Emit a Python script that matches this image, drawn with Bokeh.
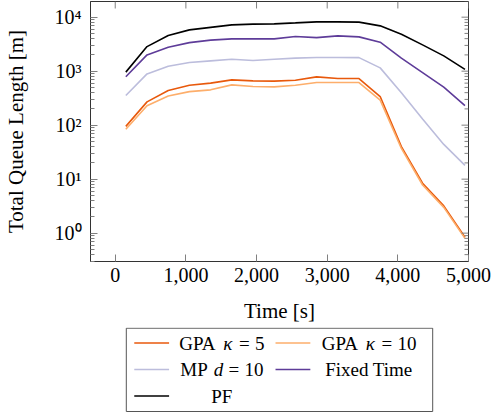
import math
from bokeh.plotting import figure
from bokeh.layouts import column
from bokeh.models import (Range1d, FixedTicker, NumeralTickFormatter,
                          CustomJSTickFormatter, ColumnDataSource)
from bokeh.core.properties import value
from bokeh.embed import file_html
from bokeh.resources import INLINE

# Simulation time stamps [s]
time_s = [150, 450, 750, 1050, 1350, 1650, 1950, 2250, 2550, 2850,
          3150, 3450, 3750, 4050, 4350, 4650, 4950]

# Total queue length [m] per controller
gpa_k5 = [95, 270, 437, 550, 600, 690, 662, 655, 680, 784,
          730, 730, 339, 40, 8.4, 3.2, 0.84]
gpa_k10 = [84, 228, 348, 418, 451, 557, 520, 512, 550, 616,
           616, 616, 290, 37, 7.8, 3.0, 0.80]
mp_d10 = [355, 890, 1237, 1445, 1550, 1665, 1573, 1665, 1740, 1787,
          1787, 1780, 1150, 400, 130, 44, 18]
fixed_time = [790, 2000, 2770, 3380, 3750, 3960, 3960, 3960, 4380, 4180,
              4510, 4310, 3440, 1740, 942, 505, 230]
pf = [960, 2850, 4570, 5820, 6470, 7200, 7420, 7520, 7840, 8190,
      8190, 8080, 6900, 4840, 3070, 1920, 1080]

series_values = [gpa_k5, gpa_k10, mp_d10, fixed_time, pf]
series_colors = ["#e8590c", "#fdae6b", "#bcbddc", "#5e3c99", "#000000"]

# Legend labels split into (text, italic) runs
legend_runs = [
    [("GPA", False), ("κ", True), ("=", False), ("5", False)],
    [("GPA", False), ("κ", True), ("=", False), ("10", False)],
    [("MP", False), ("d", True), ("=", False), ("10", False)],
    [("Fixed Time", False)],
    [("PF", False)],
]

x_ticks = [0, 1000, 2000, 3000, 4000, 5000]
y_ticks = [1, 10, 100, 1000, 10000]
y_minor = [m * 10 ** e for e in range(-1, 5) for m in range(2, 10)]

FONT = "Liberation Serif"
FS = 20
AXIS_COL = "#333333"
TICK_COL = "#808080"
B_LEFT, B_RIGHT = 88, 31
W, H_MAIN, H_TOTAL = 499, 327, 413

x_lo, x_hi = -350, 5000
y_lo, y_hi = 10 ** -0.525, 10 ** 4.29

p = figure(width=W, height=H_MAIN, y_axis_type="log",
           x_range=Range1d(x_lo, x_hi), y_range=Range1d(y_lo, y_hi),
           output_backend="svg", toolbar_location=None,
           min_border_left=B_LEFT, min_border_right=B_RIGHT, min_border_top=1,
           min_border_bottom=66)
p.grid.visible = False
p.outline_line_color = AXIS_COL
p.background_fill_color = "white"

for vals, col in zip(series_values, series_colors):
    src = ColumnDataSource(dict(t=time_s, q=vals))
    p.line("t", "q", source=src, line_color=col, line_width=1.6)

sup_fmt = CustomJSTickFormatter(code="""
    const s = {"-": "\u207b", "0": "\u2070", "1": "\u00b9", "2": "\u00b2", "3": "\u00b3",
               "4": "\u2074", "5": "\u2075", "6": "\u2076", "7": "\u2077", "8": "\u2078", "9": "\u2079"};
    const e = String(Math.round(Math.log10(tick)));
    return "10" + e.split("").map(c => s[c]).join("");
""")


def style_axis(ax):
    ax.axis_line_color = AXIS_COL
    ax.major_tick_line_color = TICK_COL
    ax.minor_tick_line_color = TICK_COL
    ax.major_tick_in = 7
    ax.major_tick_out = 0
    ax.minor_tick_in = 4
    ax.minor_tick_out = 0
    ax.major_label_text_font = FONT
    ax.major_label_text_color = "black"
    ax.major_label_text_font_size = f"{FS}px"
    ax.axis_label_text_font = FONT
    ax.axis_label_text_font_style = "normal"
    ax.axis_label_text_color = "black"
    ax.axis_label_text_font_size = f"{FS + 1}px"


xa = p.xaxis[0]
xa.ticker = FixedTicker(ticks=x_ticks)
xa.formatter = NumeralTickFormatter(format="0,0")
xa.axis_label = "Time [s]"
style_axis(xa)
xa.major_label_standoff = 6
xa.axis_label_standoff = 14

ya = p.yaxis[0]
ya.ticker = FixedTicker(ticks=y_ticks, minor_ticks=y_minor)
ya.formatter = sup_fmt
ya.axis_label = "Total Queue Length [m]"
style_axis(ya)
ya.major_label_standoff = 9
ya.axis_label_standoff = 24

# Inward ticks along the top and right edges of the box
p.ray(x=x_ticks, y=[y_hi] * len(x_ticks), length=7, length_units="screen",
      angle=-math.pi / 2, line_color=TICK_COL, line_width=1)
p.ray(x=[x_hi] * len(y_ticks), y=y_ticks, length=7, length_units="screen",
      angle=math.pi, line_color=TICK_COL, line_width=1)
p.ray(x=[x_hi] * len(y_minor), y=y_minor, length=4, length_units="screen",
      angle=math.pi, line_color=TICK_COL, line_width=1)

# Legend panel below the axes; its ranges are page pixels over the same frame columns
lg = figure(width=W, height=H_TOTAL - H_MAIN, x_range=Range1d(B_LEFT, W - B_RIGHT),
            y_range=Range1d(H_TOTAL, H_MAIN), output_backend="svg", toolbar_location=None,
            min_border_left=B_LEFT, min_border_right=B_RIGHT,
            min_border_top=0, min_border_bottom=0,
            x_axis_location=None, y_axis_location=None)
lg.grid.visible = False
lg.outline_line_color = None

box_l, box_r, box_t, box_b = 124, 432, 327.7, 411
lg.quad(left=[box_l], right=[box_r], top=[box_t], bottom=[box_b],
        fill_color=None, line_color="#555555", line_width=1)

row_y = [342.5, 369, 395.5]
line_x0 = [132, 274]
line_len = 35
text_ctr = [220, 368]
LFS = 19
# approximate advance widths (em) for laying out label runs
adv = {"G": .722, "P": .556, "A": .722, "M": .889, "F": .556, "i": .278, "x": .5,
       "e": .444, "d": .5, "T": .611, "m": .778, " ": .25, "κ": .55, "=": .564,
       "5": .5, "1": .5, "0": .5}
gap_word, gap_math = 0.33, 0.28

for k, (runs, col) in enumerate(zip(legend_runs, series_colors)):
    r, c = divmod(k, 2)
    y = row_y[r]
    lg.segment(x0=[line_x0[c]], x1=[line_x0[c] + line_len], y0=[y], y1=[y],
               line_color=col, line_width=1.6)
    widths = [sum(adv.get(ch, .5) for ch in t) * LFS for t, _ in runs]
    seps = [(gap_word if j == 0 else gap_math) * LFS for j in range(len(runs) - 1)]
    total = sum(widths) + sum(seps)
    x = text_ctr[c] - total / 2
    for j, (t, ital) in enumerate(runs):
        lg.text(x=[x], y=[y], text=[t], text_font=value(FONT),
                text_font_size=f"{LFS}px", text_baseline="middle",
                text_align="left", text_color="black",
                text_font_style="italic" if ital else "normal")
        x += widths[j] + (seps[j] if j < len(seps) else 0)

layout = column(p, lg, spacing=0)
open("out.html", "w").write(file_html(layout, INLINE))
